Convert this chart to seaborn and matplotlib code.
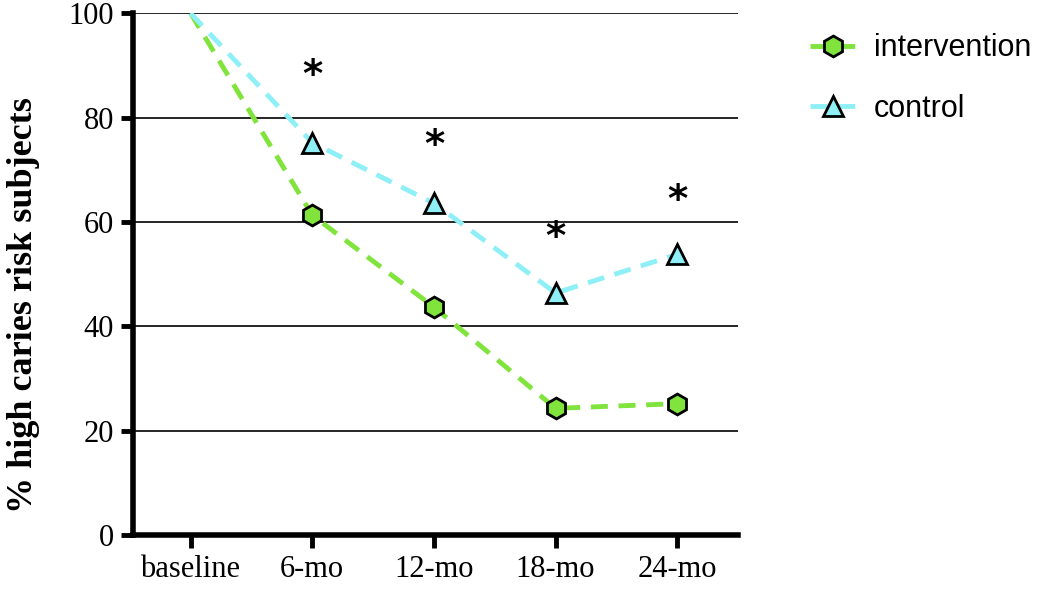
import pandas as pd
import numpy as np

import seaborn as sns
import matplotlib.pyplot as plt

timepoints = ["baseline", "6-mo", "12-mo", "18-mo", "24-mo"]
intervention = [100, 61.3, 43.7, 24.3, 25.2]
control = [100, 75.2, 63.6, 46.4, 53.8]
# significance stars (x category, y position)
star_points = ["6-mo", "12-mo", "18-mo", "24-mo"]
star_y = [88.0, 74.5, 57.0, 64.0]

GREEN = "#80e43c"
CYAN = "#8ef0f6"

sns.set_style("white", {"text.color": "black", "axes.labelcolor": "black",
                        "xtick.color": "black", "ytick.color": "black"})

df = pd.DataFrame({"time": timepoints * 2,
                   "pct": intervention + control,
                   "group": ["intervention"] * 5 + ["control"] * 5})

fig = plt.figure(figsize=(10.5, 6), dpi=100)
ax = fig.add_axes([0.127, 0.108, 0.576, 0.870])

# horizontal grid lines
for yv in [20, 40, 60, 80, 100]:
    ax.axhline(yv, color="black", lw=1.2, zorder=0)

# no marker at baseline
marks = [1, 2, 3, 4]
sns.lineplot(data=df[df.group == "intervention"], x="time", y="pct", ax=ax,
             color=GREEN, lw=3.5, linestyle=(0, (3.5, 2.2)), marker="h",
             markevery=marks, markersize=15, markerfacecolor=GREEN,
             markeredgecolor="black", markeredgewidth=2,
             label="intervention", zorder=3)
sns.lineplot(data=df[df.group == "control"], x="time", y="pct", ax=ax,
             color=CYAN, lw=3.5, linestyle=(0, (3.5, 2.2)), marker="^",
             markevery=marks, markersize=15, markerfacecolor=CYAN,
             markeredgecolor="black", markeredgewidth=2,
             label="control", zorder=3)

for xp, yp in zip(star_points, star_y):
    ax.text(timepoints.index(xp), yp, "*", ha="center", va="center",
            fontsize=28, fontweight="bold", fontfamily="DejaVu Sans",
            color="black")

ax.set_xlim(-0.47, 4.5)
ax.set_ylim(0, 100)
ax.set_yticks([0, 20, 40, 60, 80, 100])
ax.set_xlabel("")
ax.set_ylabel("% high caries risk subjects", fontsize=26, fontweight="bold",
              fontfamily="Liberation Serif", color="black")
ax.yaxis.set_label_coords(-0.155, 0.44)

for s in ["top", "right"]:
    ax.spines[s].set_visible(False)
for s in ["left", "bottom"]:
    ax.spines[s].set_linewidth(4)
    ax.spines[s].set_color("black")
ax.tick_params(axis="both", direction="out", length=9, width=3.5, color="black",
               labelcolor="black", labelsize=22, pad=5, left=True, bottom=True)
for lab in ax.get_xticklabels() + ax.get_yticklabels():
    lab.set_fontfamily("Liberation Serif")

leg = ax.legend(loc="upper left", bbox_to_anchor=(0.745, 0.99),
                bbox_transform=fig.transFigure, frameon=False,
                prop={"family": "Liberation Sans", "size": 22},
                handlelength=1.5, handletextpad=0.6, labelspacing=1.0,
                labelcolor="black")

fig.savefig("out.png", dpi=100)
